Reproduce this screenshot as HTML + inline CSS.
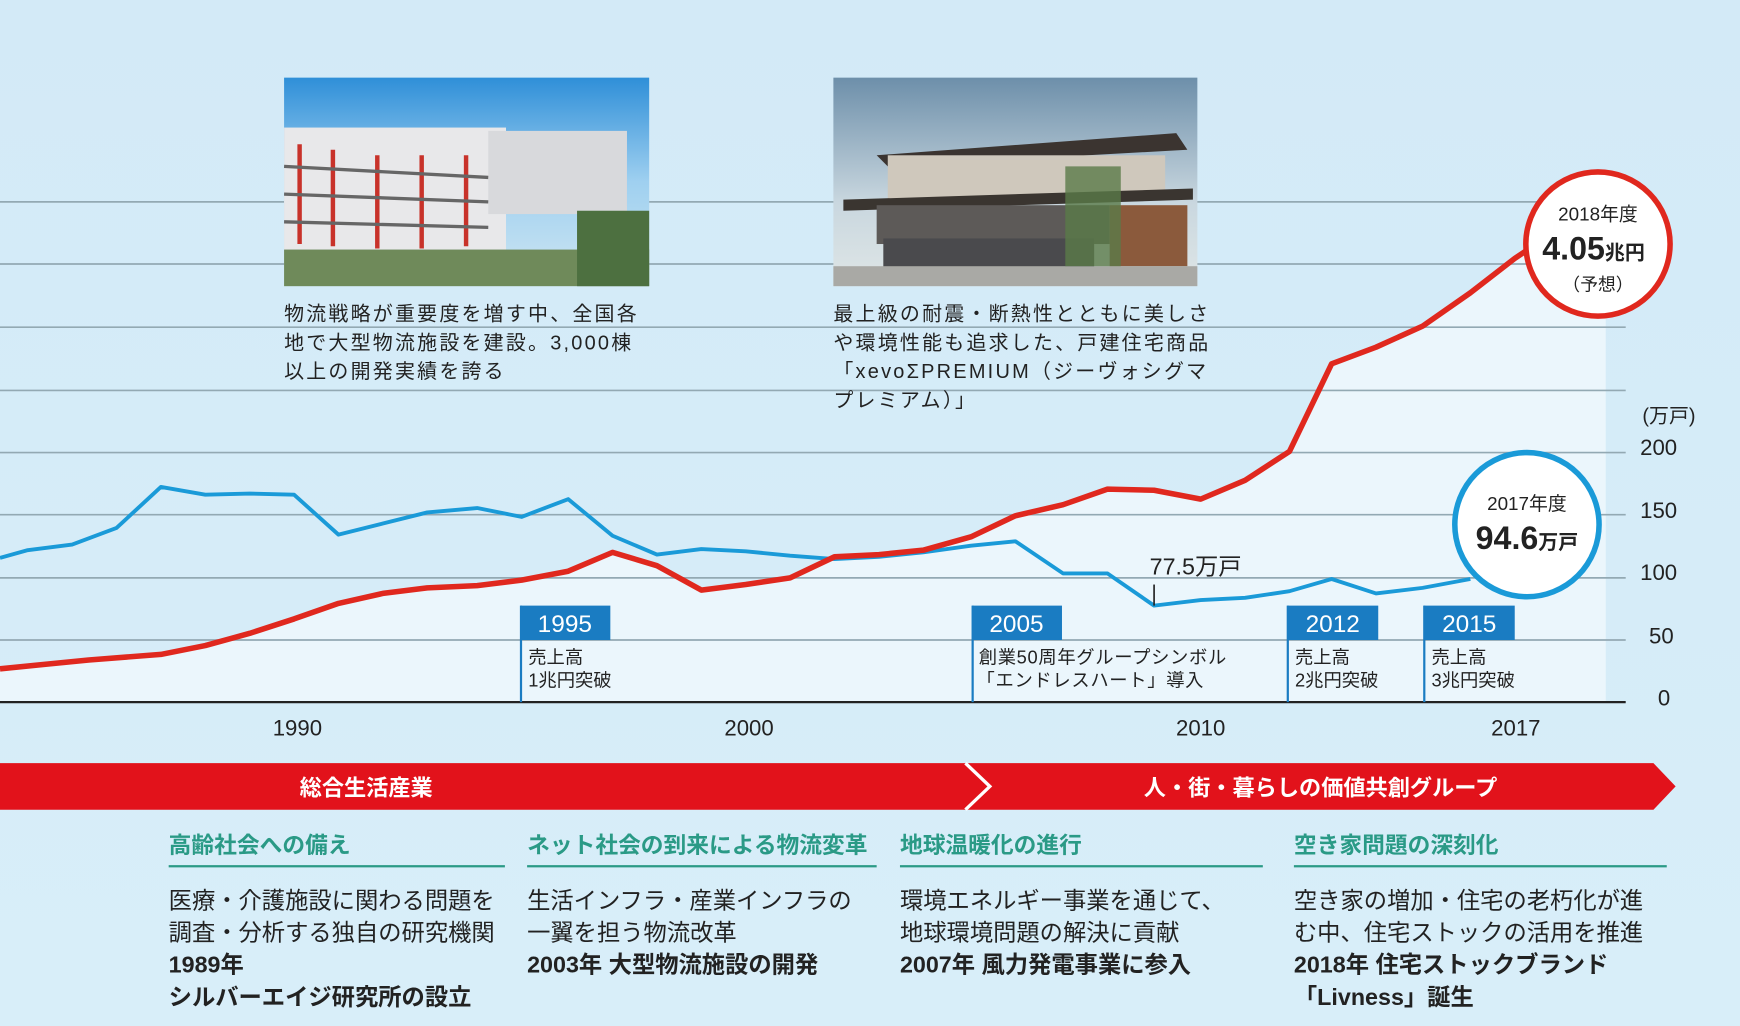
<!DOCTYPE html>
<html><head><meta charset="utf-8"><style>
html,body{margin:0;padding:0;background:#d6ecf8;}
svg{display:block;font-family:"Liberation Sans","Noto Sans CJK JP",sans-serif;}
</style></head><body>
<svg width="1740" height="1026" viewBox="0 0 1568 925" preserveAspectRatio="none" xmlns="http://www.w3.org/2000/svg">
<defs>
<linearGradient id="bg" x1="0" y1="0" x2="0" y2="1"><stop offset="0" stop-color="#d3eaf7"/><stop offset="1" stop-color="#d8eef9"/></linearGradient>
<linearGradient id="sky1" x1="0" y1="0" x2="0" y2="1"><stop offset="0" stop-color="#2f8fd8"/><stop offset="0.5" stop-color="#9fd0f0"/><stop offset="1" stop-color="#cfe6f2"/></linearGradient>
<linearGradient id="sky2" x1="0" y1="0" x2="0" y2="1"><stop offset="0" stop-color="#6d8faa"/><stop offset="0.6" stop-color="#c9d7df"/><stop offset="1" stop-color="#dfe6e6"/></linearGradient>
</defs>
<rect width="1568" height="925" fill="url(#bg)"/>
<polygon fill="#ebf6fc" points="0,603 40,599 80,595 145,590 185,582 225,571 265,558 305,544 345,535 385,530 430,528 470,523 512,515 552,498 592,510 632,532 672,527 712,521 752,502 792,500 832,496 875,484 915,465 958,455 998,441 1040,442 1082,450 1122,433 1162,407 1200,328 1240,313 1282,294 1325,264 1365,233 1447,180 1447,633 0,633"/>
<g stroke="#93a9b3" stroke-width="1.5">
<line x1="0" y1="182" x2="1465" y2="182"/><line x1="0" y1="238" x2="1465" y2="238"/>
<line x1="0" y1="295" x2="1465" y2="295"/><line x1="0" y1="352" x2="1465" y2="352"/>
<line x1="0" y1="408" x2="1465" y2="408"/><line x1="0" y1="464" x2="1465" y2="464"/>
<line x1="0" y1="521" x2="1465" y2="521"/><line x1="0" y1="577" x2="1465" y2="577"/>
</g>
<line x1="0" y1="633" x2="1465" y2="633" stroke="#222" stroke-width="2"/>
<rect x="256" y="70" width="329" height="188" fill="url(#sky1)"/>
<rect x="256" y="115" width="200" height="110" fill="#e8e8ea"/>
<rect x="440" y="118" width="125" height="75" fill="#d8d9dc"/>
<g stroke="#c8322a" stroke-width="4"><line x1="270" y1="130" x2="270" y2="220"/><line x1="300" y1="135" x2="300" y2="222"/><line x1="340" y1="140" x2="340" y2="224"/><line x1="380" y1="140" x2="380" y2="224"/><line x1="420" y1="140" x2="420" y2="222"/></g>
<g stroke="#666" stroke-width="3"><line x1="256" y1="150" x2="440" y2="160"/><line x1="256" y1="175" x2="440" y2="182"/><line x1="256" y1="200" x2="440" y2="205"/></g>
<rect x="256" y="225" width="329" height="33" fill="#6f8a5a"/>
<rect x="520" y="190" width="65" height="68" fill="#4d7040"/>
<rect x="751" y="70" width="328" height="188" fill="url(#sky2)"/>
<polygon points="790,140 1060,120 1070,135 800,150" fill="#3b3430"/>
<rect x="800" y="140" width="250" height="40" fill="#cfc8bc"/>
<polygon points="760,180 1075,170 1075,180 760,190" fill="#3a3530"/>
<rect x="790" y="185" width="210" height="35" fill="#5d5a58"/>
<rect x="1000" y="185" width="70" height="55" fill="#8b5a3c"/>
<rect x="796" y="215" width="190" height="30" fill="#4a4a4d"/>
<rect x="751" y="240" width="328" height="18" fill="#a9a9a5"/>
<rect x="960" y="150" width="50" height="90" fill="#5a7a48" opacity="0.8"/>
<g font-size="18" fill="#222" letter-spacing="2">
<text x="256" y="289">物流戦略が重要度を増す中、全国各</text>
<text x="256" y="315">地で大型物流施設を建設。3,000棟</text>
<text x="256" y="341">以上の開発実績を誇る</text>
<text x="751" y="289">最上級の耐震・断熱性とともに美しさ</text>
<text x="751" y="315">や環境性能も追求した、戸建住宅商品</text>
<text x="751" y="341">「xevoΣPREMIUM（ジーヴォシグマ</text>
<text x="751" y="367">プレミアム）」</text>
</g>
<polyline fill="none" stroke="#1a9ad8" stroke-width="3.5" stroke-linejoin="round" points="0,503 25,496 65,491 105,476 145,439 185,446 225,445 265,446 305,482 345,472 385,462 430,458 470,466 512,450 552,483 592,500 632,495 672,497 712,501 752,504 792,502 832,498 875,492 915,488 958,517 998,517 1040,546 1082,541 1122,539 1162,533 1200,522 1240,535 1282,530 1325,522"/>
<polyline fill="none" stroke="#e0281e" stroke-width="5" stroke-linejoin="round" points="0,603 40,599 80,595 145,590 185,582 225,571 265,558 305,544 345,535 385,530 430,528 470,523 512,515 552,498 592,510 632,532 672,527 712,521 752,502 792,500 832,496 875,484 915,465 958,455 998,441 1040,442 1082,450 1122,433 1162,407 1200,328 1240,313 1282,294 1325,264 1365,233 1392,215"/>
<line x1="1040" y1="527" x2="1040" y2="546" stroke="#222" stroke-width="1.5"/>
<text x="1036" y="518" font-size="21" fill="#222">77.5万戸</text>
<g font-size="16.5" fill="#222">
<line x1="469.5" y1="546" x2="469.5" y2="633" stroke="#1a7cc2" stroke-width="2"/>
<rect x="469" y="546" width="81" height="31" fill="#1a7cc2"/>
<text x="509" y="570" font-size="22" fill="#fff" text-anchor="middle">1995</text>
<text x="476" y="598">売上高</text><text x="476" y="619">1兆円突破</text>
<line x1="876.5" y1="546" x2="876.5" y2="633" stroke="#1a7cc2" stroke-width="2"/>
<rect x="876" y="546" width="81" height="31" fill="#1a7cc2"/>
<text x="916" y="570" font-size="22" fill="#fff" text-anchor="middle">2005</text>
<text x="882" y="598" letter-spacing="0.6">創業50周年グループシンボル</text><text x="880" y="619" letter-spacing="0.6">「エンドレスハート」導入</text>
<line x1="1160.5" y1="546" x2="1160.5" y2="633" stroke="#1a7cc2" stroke-width="2"/>
<rect x="1160" y="546" width="82" height="31" fill="#1a7cc2"/>
<text x="1201" y="570" font-size="22" fill="#fff" text-anchor="middle">2012</text>
<text x="1167" y="598">売上高</text><text x="1167" y="619">2兆円突破</text>
<line x1="1283.5" y1="546" x2="1283.5" y2="633" stroke="#1a7cc2" stroke-width="2"/>
<rect x="1283" y="546" width="82" height="31" fill="#1a7cc2"/>
<text x="1324" y="570" font-size="22" fill="#fff" text-anchor="middle">2015</text>
<text x="1290" y="598">売上高</text><text x="1290" y="619">3兆円突破</text>
</g>
<circle cx="1440" cy="220" r="65" fill="#fff" stroke="#e0281e" stroke-width="5"/>
<text x="1440" y="199" font-size="17" text-anchor="middle" fill="#222">2018年度</text>
<text x="1436" y="234" font-size="29" font-weight="bold" text-anchor="middle" fill="#222">4.05<tspan font-size="18">兆円</tspan></text>
<text x="1440" y="262" font-size="16" text-anchor="middle" fill="#222">（予想）</text>
<circle cx="1376" cy="473" r="65" fill="#fff" stroke="#1a9ad8" stroke-width="5"/>
<text x="1376" y="460" font-size="17" text-anchor="middle" fill="#222">2017年度</text>
<text x="1376" y="495" font-size="29" font-weight="bold" text-anchor="middle" fill="#222">94.6<tspan font-size="18">万戸</tspan></text>
<g font-size="20" fill="#222">
<text x="268" y="663" text-anchor="middle">1990</text>
<text x="675" y="663" text-anchor="middle">2000</text>
<text x="1082" y="663" text-anchor="middle">2010</text>
<text x="1366" y="663" text-anchor="middle">2017</text>
<text x="1478" y="410">200</text><text x="1478" y="467">150</text><text x="1478" y="523">100</text>
<text x="1486" y="580">50</text><text x="1494" y="636">0</text>
<text x="1480" y="381" font-size="18">(万戸)</text>
</g>
<polygon points="0,688 1490,688 1510,709 1490,730 0,730" fill="#e2121b"/>
<polyline points="870,688 892,709 870,730" fill="none" stroke="#fff" stroke-width="3"/>
<text x="330" y="717" font-size="20" font-weight="bold" fill="#fff" text-anchor="middle">総合生活産業</text>
<text x="1190" y="717" font-size="20" font-weight="bold" fill="#fff" text-anchor="middle">人・街・暮らしの価値共創グループ</text>
<g font-size="20.5" font-weight="bold" fill="#2a9a86">
<text x="152" y="769">高齢社会への備え</text>
<text x="475" y="769">ネット社会の到来による物流変革</text>
<text x="811" y="769">地球温暖化の進行</text>
<text x="1166" y="769">空き家問題の深刻化</text>
</g>
<g stroke="#2a9a86" stroke-width="2">
<line x1="152" y1="781" x2="455" y2="781"/><line x1="475" y1="781" x2="790" y2="781"/>
<line x1="811" y1="781" x2="1138" y2="781"/><line x1="1166" y1="781" x2="1502" y2="781"/>
</g>
<g font-size="21" fill="#222">
<text x="152" y="819">医療・介護施設に関わる問題を</text>
<text x="152" y="848">調査・分析する独自の研究機関</text>
<text x="152" y="877" font-weight="bold">1989年</text>
<text x="152" y="906" font-weight="bold">シルバーエイジ研究所の設立</text>
<text x="475" y="819">生活インフラ・産業インフラの</text>
<text x="475" y="848">一翼を担う物流改革</text>
<text x="475" y="877" font-weight="bold">2003年 大型物流施設の開発</text>
<text x="811" y="819">環境エネルギー事業を通じて、</text>
<text x="811" y="848">地球環境問題の解決に貢献</text>
<text x="811" y="877" font-weight="bold">2007年 風力発電事業に参入</text>
<text x="1166" y="819">空き家の増加・住宅の老朽化が進</text>
<text x="1166" y="848">む中、住宅ストックの活用を推進</text>
<text x="1166" y="877" font-weight="bold">2018年 住宅ストックブランド</text>
<text x="1166" y="906" font-weight="bold">「Livness」誕生</text>
</g>
</svg>
</body></html>
